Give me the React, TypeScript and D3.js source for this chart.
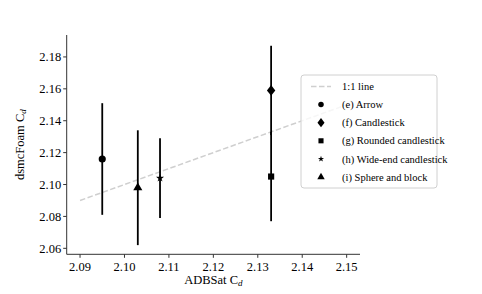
import * as d3 from 'd3';

const W = 482;
const H = 294;

const SERIES = ['(e) Arrow', '(f) Candlestick', '(g) Rounded candlestick', '(h) Wide-end candlestick', '(i) Sphere and block'];
const ADBSAT = [2.095, 2.133, 2.133, 2.108, 2.103];
const DSMC = [2.116, 2.159, 2.105, 2.104, 2.098];
const ERR = [0.035, 0.028, 0.028, 0.025, 0.036];
const SYMBOLS = [d3.symbolCircle, d3.symbolDiamond, d3.symbolSquare, d3.symbolStar, d3.symbolTriangle];
const SIZES = [40, 42, 38, 20, 36];
const LEGEND_SIZES = [24, 30, 26, 12, 24];

const ONE_TO_ONE = [2.09, 2.15];
const X_TICKS = [2.09, 2.1, 2.11, 2.12, 2.13, 2.14, 2.15];
const Y_TICKS = [2.06, 2.08, 2.1, 2.12, 2.14, 2.16, 2.18];

const FONT = "'Liberation Serif', 'Times New Roman', serif";

export default function App() {
  const margin = { left: 66.7, right: 360, top: 35, bottom: 254.3 };
  const x = d3.scaleLinear().domain([2.087, 2.153]).range([margin.left, margin.right]);
  const y = d3.scaleLinear().domain([2.05625, 2.19375]).range([margin.bottom, margin.top]);

  const leg = { x: 301, y: 75, w: 136, h: 113 };
  const rowH = 18.1;

  return (
    <svg width={W} height={H} style={{ position: 'absolute', left: 0, top: 0 }} fontFamily={FONT}>
      <rect width={W} height={H} fill="#fff" />

      {/* 1:1 line */}
      <line
        x1={x(ONE_TO_ONE[0])} y1={y(ONE_TO_ONE[0])}
        x2={x(ONE_TO_ONE[1])} y2={y(ONE_TO_ONE[1])}
        stroke="#cfcfcf" strokeWidth={1.5} strokeDasharray="5.5,2.5"
      />

      {/* error bars */}
      {SERIES.map((s, i) => (
        <line
          key={s}
          x1={x(ADBSAT[i])} x2={x(ADBSAT[i])}
          y1={y(DSMC[i] - ERR[i])} y2={y(DSMC[i] + ERR[i])}
          stroke="#000" strokeWidth={1.8}
        />
      ))}
      {SERIES.map((s, i) => (
        <path
          key={s + 'm'}
          d={d3.symbol(SYMBOLS[i], SIZES[i])() || ''}
          transform={`translate(${x(ADBSAT[i])},${y(DSMC[i])})${i === 1 ? ' scale(1.2,0.9)' : ''}`}
          fill="#000"
        />
      ))}

      {/* axes */}
      <line x1={margin.left} x2={margin.right} y1={margin.bottom} y2={margin.bottom} stroke="#333" strokeWidth={1} />
      <line x1={margin.left} x2={margin.left} y1={margin.top} y2={margin.bottom} stroke="#333" strokeWidth={1} />
      {X_TICKS.map((t) => (
        <g key={t} transform={`translate(${x(t)},${margin.bottom})`}>
          <line y2={3.5} stroke="#333" />
          <text y={16.5} textAnchor="middle" fontSize={12.5} fill="#000">{t.toFixed(2)}</text>
        </g>
      ))}
      {Y_TICKS.map((t) => (
        <g key={t} transform={`translate(${margin.left},${y(t)})`}>
          <line x2={-3.5} stroke="#333" />
          <text x={-5.5} dy="0.35em" textAnchor="end" fontSize={12.5} fill="#000">{t.toFixed(2)}</text>
        </g>
      ))}
      <text x={(margin.left + margin.right) / 2} y={284} textAnchor="middle" fontSize={12.5} fill="#000">
        ADBSat C<tspan fontSize={9} fontStyle="italic" dy={2}>d</tspan>
      </text>
      <text
        transform={`translate(24,${(margin.top + margin.bottom) / 2}) rotate(-90)`}
        textAnchor="middle" fontSize={12.5} fill="#000"
      >
        dsmcFoam C<tspan fontSize={9} fontStyle="italic" dy={2}>d</tspan>
      </text>

      {/* legend */}
      <rect x={leg.x} y={leg.y} width={leg.w} height={leg.h} rx={3} fill="#fff" fillOpacity={0.8} stroke="#d0d0d0" strokeWidth={1} />
      <g transform={`translate(${leg.x},${leg.y + 11.5})`}>
        <line x1={10} x2={30} y1={0} y2={0} stroke="#cfcfcf" strokeWidth={1.5} strokeDasharray="5.5,2.5" />
        <text x={41} dy="0.35em" fontSize={10.5} fill="#000">1:1 line</text>
        {SERIES.map((s, i) => (
          <g key={s} transform={`translate(0,${(i + 1) * rowH})`}>
            <path d={d3.symbol(SYMBOLS[i], LEGEND_SIZES[i])() || ''} transform={`translate(20,0)${i === 1 ? ' scale(1.2,0.9)' : ''}`} fill="#000" />
            <text x={41} dy="0.35em" fontSize={10.5} fill="#000">{s}</text>
          </g>
        ))}
      </g>
    </svg>
  );
}
